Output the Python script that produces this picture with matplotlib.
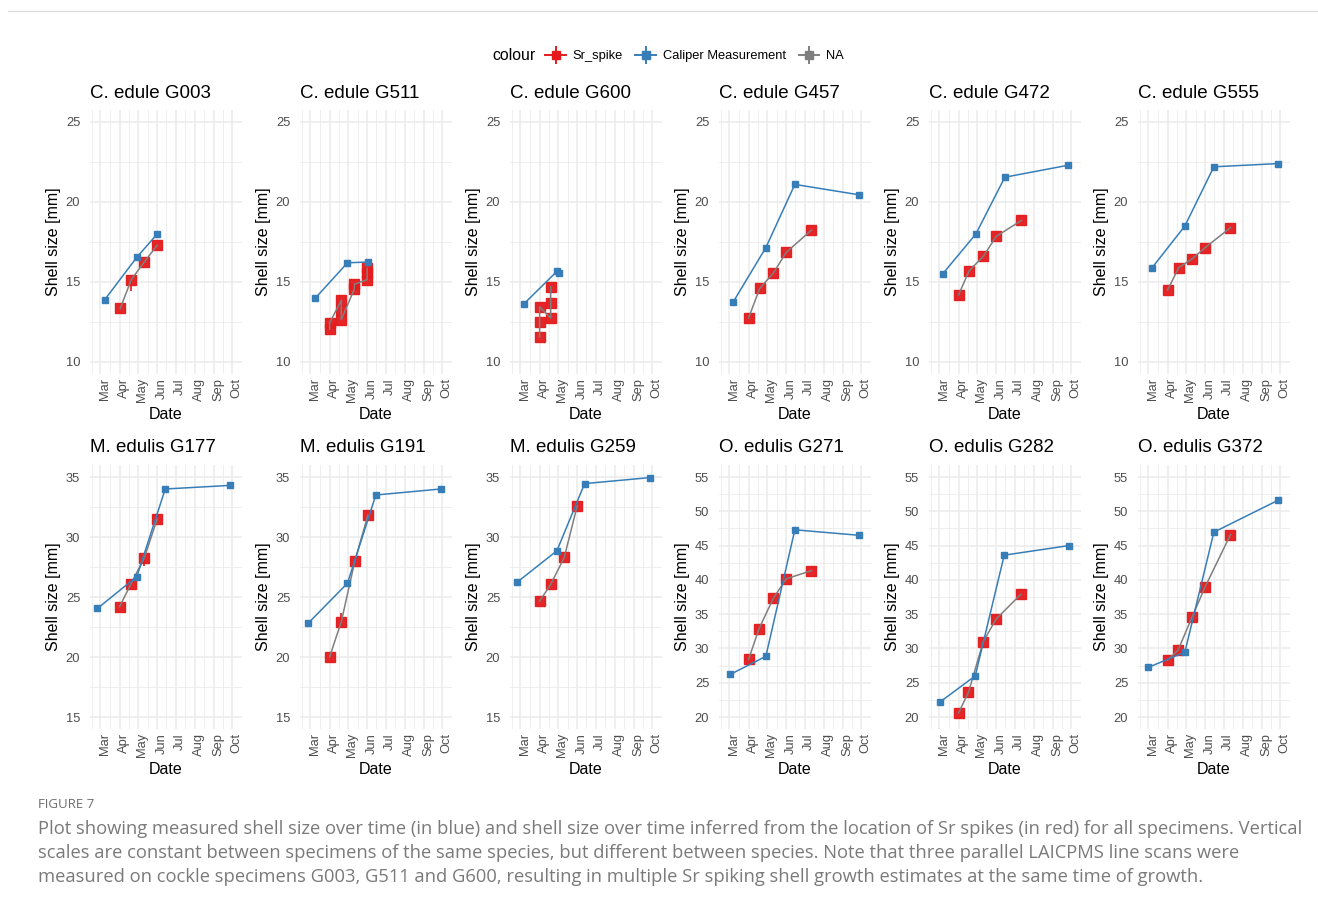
import numpy as np
import pandas as pd
import matplotlib
matplotlib.use('Agg')
import matplotlib.pyplot as plt
import matplotlib.transforms as mtransforms
from matplotlib.lines import Line2D
from matplotlib.legend_handler import HandlerTuple

plt.rcParams['font.family'] = ['Liberation Sans', 'DejaVu Sans']

# Specimens, in facet order (6 per row)
specimens = ['C. edule G003', 'C. edule G511', 'C. edule G600',
             'C. edule G457', 'C. edule G472', 'C. edule G555',
             'M. edulis G177', 'M. edulis G191', 'M. edulis G259',
             'O. edulis G271', 'O. edulis G282', 'O. edulis G372']

# Caliper measurements (date, shell size in mm)
caliper_dates = [
    ['03-08', '04-29', '06-01'],
    ['03-09', '04-30', '06-02'],
    ['03-07', '04-30', '05-03'],
    ['03-07', '04-29', '06-15', '09-27'],
    ['03-06', '04-29', '06-15', '09-26'],
    ['03-07', '04-29', '06-15', '09-27'],
    ['02-24', '04-29', '06-14', '09-27'],
    ['02-25', '04-30', '06-15', '09-28'],
    ['02-24', '04-29', '06-13', '09-27'],
    ['03-02', '04-29', '06-15', '09-27'],
    ['03-02', '04-28', '06-14', '09-27'],
    ['03-01', '04-29', '06-15', '09-27'],
]
caliper_size = [
    [13.9, 16.55, 18.0],
    [14.0, 16.2, 16.25],
    [13.65, 15.7, 15.55],
    [13.75, 17.15, 21.1, 20.45],
    [15.5, 18.0, 21.55, 22.3],
    [15.9, 18.5, 22.2, 22.4],
    [24.05, 26.7, 34.0, 34.3],
    [22.8, 26.15, 33.5, 34.0],
    [26.25, 28.85, 34.45, 34.95],
    [26.2, 28.85, 47.3, 46.5],
    [22.2, 26.0, 43.6, 45.0],
    [27.25, 29.45, 46.95, 51.6],
]

# Shell size inferred from Sr spikes (three line scans on G003, G511, G600)
sr_dates = [
    ['04-02', '04-20', '05-11', '06-01'],
    ['04-01', '04-01', '04-20', '04-20', '04-20', '05-11', '05-11', '06-01', '06-01', '06-01'],
    ['04-01', '04-01', '04-01', '04-19', '04-19', '04-19'],
    ['04-01', '04-19', '05-11', '06-01', '07-12'],
    ['04-01', '04-18', '05-11', '06-01', '07-12'],
    ['04-01', '04-19', '05-11', '06-01', '07-12'],
    ['04-01', '04-19', '05-11', '06-01'],
    ['04-01', '04-20', '05-12', '06-02'],
    ['04-01', '04-19', '05-11', '06-01'],
    ['04-01', '04-18', '05-11', '06-01', '07-12'],
    ['04-01', '04-17', '05-11', '06-01', '07-11'],
    ['04-01', '04-18', '05-11', '06-01', '07-12'],
]
sr_size = [
    [13.35, 15.15, 16.25, 17.3],
    [12.05, 12.45, 13.85, 13.25, 12.65, 14.55, 14.85, 15.15, 15.55, 15.85],
    [11.55, 12.5, 13.45, 12.75, 13.7, 14.7],
    [12.75, 14.6, 15.55, 16.85, 18.25],
    [14.2, 15.7, 16.6, 17.85, 18.85],
    [14.5, 15.9, 16.45, 17.15, 18.4],
    [24.2, 26.05, 28.25, 31.5],
    [20.0, 22.95, 28.0, 31.8],
    [24.65, 26.05, 28.3, 32.6],
    [28.4, 32.9, 37.3, 40.15, 41.35],
    [20.6, 23.6, 31.0, 34.3, 37.9],
    [28.3, 29.75, 34.65, 39.0, 46.6],
]
# Visible Sr error bars: (specimen index, date, ymin, ymax)
sr_errorbars = [
    (0, '04-20', 14.45, 15.15),
    (6, '05-11', 27.6, 28.25),
    (7, '04-20', 22.95, 23.7),
]

# Fixed vertical scales per species
species_limits = {'C. edule': (10, 25), 'M. edulis': (15, 35), 'O. edulis': (20, 55)}
month_labels = ['Mar', 'Apr', 'May', 'Jun', 'Jul', 'Aug', 'Sep', 'Oct']

RED = '#E41A1C'
BLUE = '#377EB8'
GREY = '#7F7F7F'
GRID = '#EBEBEB'
TEXT = '#4D4D4D'
YEAR = '2022-'


def to_dates(lst):
    return pd.to_datetime([YEAR + d for d in lst])


W, H = 1318, 910
fig = plt.figure(figsize=(W / 100, H / 100), dpi=100)

lefts = [90, 300, 510, 719, 929, 1138]
tops = [110, 465]
pw, ph = 152, 264

month_starts = pd.date_range('2022-03-01', '2022-10-01', freq='MS')
all_starts = pd.date_range('2022-02-01', '2022-11-01', freq='MS')
month_mids = all_starts[:-1] + (all_starts[1:] - all_starts[:-1]) / 2
x_lo, x_hi = pd.Timestamp('2022-02-23'), pd.Timestamp('2022-10-01')
x_pad = (x_hi - x_lo) * 0.05

for i, name in enumerate(specimens):
    r, c = divmod(i, 6)
    ax = fig.add_axes([lefts[c] / W, 1 - (tops[r] + ph) / H, pw / W, ph / H])

    lo, hi = species_limits[name.rsplit(' ', 1)[0]]
    ax.set_ylim(lo - 0.05 * (hi - lo), hi + 0.05 * (hi - lo))
    ax.set_xlim(x_lo - x_pad, x_hi + x_pad)

    # grid, theme_minimal style
    yt = np.arange(lo, hi + 0.1, 5)
    ax.set_yticks(yt)
    ax.set_yticks(yt[:-1] + 2.5, minor=True)
    ax.set_xticks(month_starts)
    ax.set_xticks(month_mids, minor=True)
    ax.grid(which='major', color=GRID, lw=1.1)
    ax.grid(which='minor', color=GRID, lw=0.6)
    ax.set_axisbelow(True)
    for s in ax.spines.values():
        s.set_visible(False)
    ax.tick_params(which='both', length=0)
    ax.tick_params(axis='y', labelsize=9.3, labelcolor=TEXT, pad=7)
    ax.tick_params(axis='x', labelsize=9.3, labelcolor=TEXT, pad=3)
    ax.set_xticklabels(month_labels, rotation=90, va='top', ha='center')
    shift = mtransforms.ScaledTranslation(3 / 72, 0, fig.dpi_scale_trans)
    for lab in ax.get_xticklabels():
        lab.set_transform(lab.get_transform() + shift)

    # Sr spike estimates
    sd = to_dates(sr_dates[i])
    for k, d, ymin, ymax in sr_errorbars:
        if k == i:
            ax.vlines(pd.Timestamp(YEAR + d), ymin, ymax, color=RED, lw=1.2, zorder=3)
    ax.plot(sd, sr_size[i], ls='none', marker='s', ms=6.8, color=RED,
            mec=RED, alpha=0.95, zorder=3)
    ax.plot(sd, sr_size[i], color=GREY, lw=1.1, zorder=4)

    # caliper measurements
    cd = to_dates(caliper_dates[i])
    ax.plot(cd, caliper_size[i], color=BLUE, lw=1.1, marker='s', ms=3.8, zorder=5)

    ax.set_title(name, loc='left', fontsize=13.5, pad=9)
    ax.set_ylabel('Shell size [mm]', fontsize=11.5)
    ax.yaxis.set_label_coords(-0.19, 0.5)
    ax.set_xlabel('Date', fontsize=11.5)
    ax.xaxis.set_label_coords(0.5, -0.125)

# legend across the top
fig.text(492 / W, 1 - 56 / H, 'colour', fontsize=11.4, va='center', ha='left')
handles = [
    (Line2D([0], [0], color=col, lw=1.4, marker='s', ms=5.5),
     Line2D([0], [0], color=col, lw=0, marker='|', ms=13, mew=1.4))
    for col in (RED, BLUE, GREY)
]
fig.legend(handles, ['Sr_spike', 'Caliper Measurement', 'NA'],
           handler_map={tuple: HandlerTuple(ndivide=1)},
           loc='center left', bbox_to_anchor=(540 / W, 1 - 56 / H),
           ncol=3, frameon=False, fontsize=9.3, handlelength=1.6,
           handletextpad=0.5, columnspacing=1.0, borderaxespad=0)

# top rule and caption
fig.add_artist(Line2D([8 / W, 1], [1 - 11 / H, 1 - 11 / H], color='#D9D9D9', lw=0.8))
caption = [
    'Plot showing measured shell size over time (in blue) and shell size over time inferred from the location of Sr spikes (in red) for all specimens. Vertical',
    'scales are constant between specimens of the same species, but different between species. Note that three parallel LAICPMS line scans were',
    'measured on cockle specimens G003, G511 and G600, resulting in multiple Sr spiking shell growth estimates at the same time of growth.',
]
fig.text(38 / W, 1 - 805 / H, 'FIGURE 7', fontsize=9.5, color='#6E6E6E',
         family='Open Sans', va='center')
for j, line in enumerate(caption):
    fig.text(38 / W, 1 - (829 + 24 * j) / H, line, fontsize=13.2, color='#7A7A7A',
             family='Open Sans', va='center')

fig.savefig('out.png', dpi=100)
